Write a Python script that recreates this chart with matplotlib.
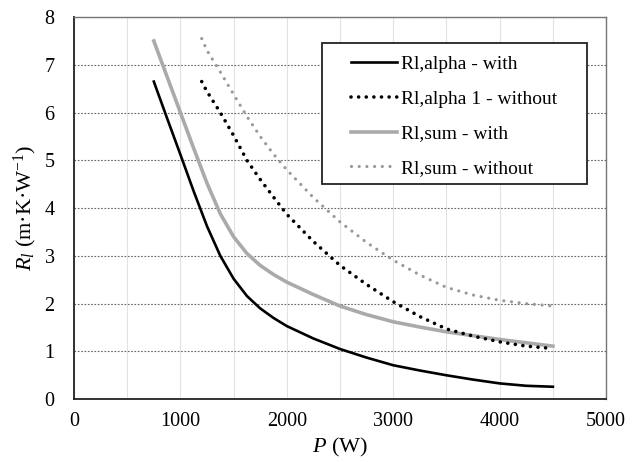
import numpy as np
import matplotlib
matplotlib.use('Agg')
import matplotlib.pyplot as plt
from matplotlib.patches import Rectangle

plt.rcParams['font.family'] = 'Liberation Serif'
plt.rcParams['mathtext.fontset'] = 'custom'
plt.rcParams['mathtext.rm'] = 'Liberation Serif'
plt.rcParams['mathtext.it'] = 'Liberation Serif:italic'

# values
p_with = [750, 875, 1000, 1125, 1250, 1375, 1500, 1625, 1750, 1875, 2000, 2250, 2500,
          2750, 3000, 3250, 3500, 3750, 4000, 4250, 4500]
alpha_with = [6.65, 5.88, 5.12, 4.35, 3.62, 3.0, 2.52, 2.16, 1.9, 1.7, 1.53, 1.27, 1.05,
              0.87, 0.71, 0.60, 0.50, 0.41, 0.33, 0.28, 0.26]
sum_with = [7.5, 6.75, 6.0, 5.25, 4.52, 3.88, 3.4, 3.05, 2.8, 2.61, 2.45, 2.19, 1.95,
            1.77, 1.62, 1.51, 1.41, 1.33, 1.25, 1.18, 1.11]

p_without = [1200, 1250, 1375, 1500, 1625, 1750, 1875, 2000, 2250, 2500, 2750, 3000,
             3250, 3500, 3750, 4000, 4250, 4500]
alpha_without = [6.65, 6.44, 6.0, 5.52, 5.0, 4.6, 4.23, 3.87, 3.3, 2.8, 2.4, 2.04,
                 1.73, 1.47, 1.32, 1.2, 1.11, 1.06]
sum_without = [7.55, 7.3, 6.85, 6.38, 5.92, 5.5, 5.13, 4.8, 4.22, 3.71, 3.28, 2.91,
               2.6, 2.34, 2.18, 2.07, 2.0, 1.95]

labels = ['Rl,alpha - with', 'Rl,alpha 1 - without', 'Rl,sum - with', 'Rl,sum - without']

fig = plt.figure(figsize=(6.38, 4.62), dpi=100)
ax = fig.add_axes([0.116, 0.136, 0.834, 0.827])

ax.plot(p_with, alpha_with, color='black', lw=1.9, label=labels[0], zorder=5)
ax.plot(p_without, alpha_without, color='black', lw=2.6, linestyle=(0, (0.01, 2.1)),
        dash_capstyle='round', label=labels[1], zorder=5)
ax.plot(p_with, sum_with, color='#aaaaaa', lw=2.6, label=labels[2], zorder=4)
ax.plot(p_without, sum_without, color='#999999', lw=2.3, linestyle=(0, (0.01, 2.4)),
        dash_capstyle='round', label=labels[3], zorder=4)

ax.set_xlim(0, 5000)
ax.set_ylim(0, 8)
ax.set_xticks(np.arange(0, 5001, 1000))
ax.set_xticks(np.arange(0, 5001, 500), minor=True)
ax.set_yticks(np.arange(0, 9, 1))
ax.tick_params(axis='both', which='both', length=0, labelsize=14.5)
ax.tick_params(axis='x', pad=9)
ax.tick_params(axis='y', pad=14)

ax.grid(True, which='minor', axis='x', color='#e2e2e2', lw=0.8, ls='-')
ax.grid(True, which='major', axis='x', color='#e2e2e2', lw=0.8, ls='-')
ax.grid(True, which='major', axis='y', color='#666666', lw=0.8, ls=(0, (1.5, 1.5)))
ax.set_axisbelow(True)

for side in ['left', 'bottom']:
    ax.spines[side].set_color('#222222')
    ax.spines[side].set_linewidth(1.3)
for side in ['top', 'right']:
    ax.spines[side].set_color('#777777')
    ax.spines[side].set_linewidth(1.0)

ax.set_xlabel('$P$ (W)', fontsize=16, labelpad=4)
ax.set_ylabel('$R_l$ (m·K·W$^{-1}$)', fontsize=16, labelpad=4)

# legend frame drawn separately so it can be wider than its text
ax.add_patch(Rectangle((0.466, 0.563), 0.499, 0.370, transform=ax.transAxes,
                       facecolor='white', edgecolor='#222222', lw=1.3, zorder=6))
leg = ax.legend(loc='upper left', bbox_to_anchor=(0.52, 0.90), frameon=False,
                fontsize=14, handlelength=2.4, handletextpad=0.2, labelspacing=0.88,
                borderpad=0, borderaxespad=0)
leg.set_zorder(7)

plt.savefig('out.png', dpi=100)
